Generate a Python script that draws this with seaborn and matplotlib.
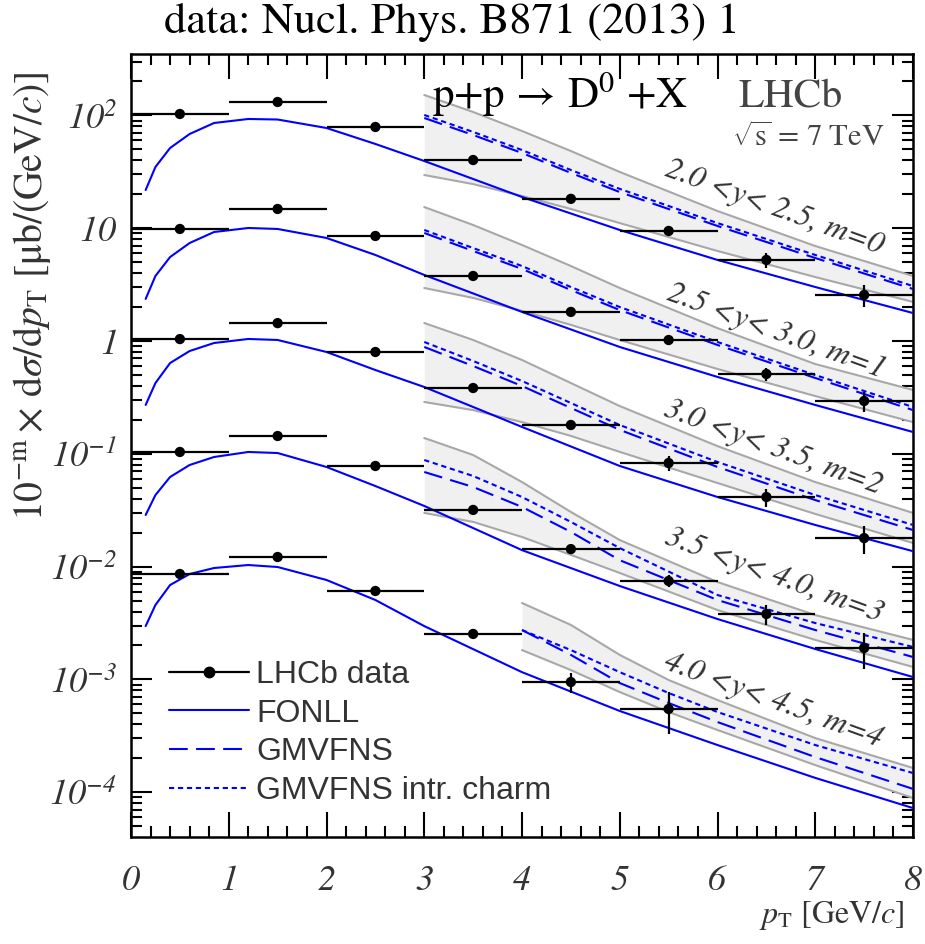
import numpy as np
import pandas as pd
import matplotlib
matplotlib.use("Agg")
import matplotlib.pyplot as plt
from matplotlib.lines import Line2D
from matplotlib.ticker import FixedLocator, MultipleLocator, LogLocator, NullFormatter
import seaborn as sns

# ---------------- data (physical values, mub/(GeV/c)); plotted as 10^-m x value ----
m_values = [0, 1, 2, 3, 4]
rap_labels = ["2.0 <y< 2.5, m=0", "2.5 <y< 3.0, m=1", "3.0 <y< 3.5, m=2",
              "3.5 <y< 4.0, m=3", "4.0 <y< 4.5, m=4"]

pt_centres = [0.5, 1.5, 2.5, 3.5, 4.5, 5.5, 6.5, 7.5]
data_m0 = [102.9, 131.4, 78.9, 40.2, 18.2, 9.45, 5.23, 2.56]
data_m1 = [98.4, 148.0, 85.3, 37.7, 18.1, 10.2, 5.10, 2.94]
data_m2 = [104.0, 144.0, 79.9, 38.3, 18.0, 8.29, 4.14, 1.79]
data_m3 = [103.8, 143.8, 78.0, 31.8, 14.3, 7.46, 3.80, 1.90]
data_m4 = [86.0, 121.7, 60.8, 25.3, 9.48, 5.47]
relerr_m0 = [0.05, 0.05, 0.05, 0.06, 0.07, 0.08, 0.15, 0.22]
relerr_m1 = [0.05, 0.05, 0.05, 0.06, 0.07, 0.08, 0.13, 0.20]
relerr_m2 = [0.05, 0.05, 0.05, 0.06, 0.07, 0.15, 0.18, 0.28]
relerr_m3 = [0.05, 0.05, 0.05, 0.06, 0.08, 0.12, 0.20, 0.35]
relerr_m4 = [0.05, 0.05, 0.05, 0.08, 0.20, 0.40]

# FONLL
pt_fonll = [0.15, 0.25, 0.4, 0.6, 0.85, 1.2, 1.5, 2.0, 2.5, 3.0, 4.0, 5.0, 6.0, 7.0, 8.0]
fonll_m0 = [21.8, 34.9, 51.4, 68.4, 85.6, 92.9, 91.9, 77.3, 55.8, 39.4, 18.9, 9.64, 5.23, 3.01, 1.77]
fonll_m1 = [23.6, 37.7, 55.5, 73.9, 92.5, 100.4, 98.4, 81.9, 57.9, 38.5, 18.1, 8.85, 4.80, 2.71, 1.56]
fonll_m2 = [27.1, 42.4, 63.8, 81.5, 96.0, 104.2, 102.1, 79.9, 55.3, 39.1, 17.3, 7.80, 4.14, 2.34, 1.37]
fonll_m3 = [28.7, 43.1, 62.3, 79.6, 93.7, 103.8, 101.6, 76.4, 51.8, 34.5, 14.0, 6.73, 3.43, 1.86, 1.05]
fonll_m4 = [29.7, 45.7, 68.7, 86.0, 97.2, 103.3, 99.2, 76.1, 50.6, 29.7, 11.6, 5.25, 2.62, 1.34, 0.724]

# GMVFNS, GMVFNS intrinsic charm, and uncertainty band
pt_gm = [3.0, 3.5, 4.0, 4.5, 5.0, 6.0, 7.0, 8.0]
pt_gm4 = [4.0, 4.5, 5.0, 5.5, 6.0, 7.0, 8.0]
gm_m0 = [94.8, 67.0, 46.4, 30.9, 20.9, 10.46, 5.44, 2.89]
ic_m0 = [100.8, 71.3, 49.3, 32.8, 22.3, 11.1, 5.79, 3.07]
hi_m0 = [151.6, 107.2, 72.7, 48.3, 31.5, 14.2, 6.95, 3.77]
lo_m0 = [29.6, 24.6, 19.3, 14.8, 11.1, 6.28, 3.69, 2.22]
gm_m1 = [90.7, 62.8, 43.5, 28.3, 18.8, 9.22, 4.70, 2.44]
ic_m1 = [96.4, 66.7, 46.2, 30.1, 20.0, 9.80, 4.99, 2.60]
hi_m1 = [154.0, 106.7, 71.0, 46.2, 29.5, 13.0, 6.25, 3.68]
lo_m1 = [29.5, 24.1, 18.5, 13.9, 10.2, 5.65, 3.25, 1.91]
gm_m2 = [88.5, 60.0, 39.9, 25.5, 16.3, 7.64, 3.89, 2.11]
ic_m2 = [98.0, 66.5, 44.2, 28.2, 18.0, 8.46, 4.31, 2.34]
hi_m2 = [144.4, 102.1, 67.9, 42.4, 26.5, 11.7, 5.62, 2.99]
lo_m2 = [28.8, 24.4, 19.1, 14.4, 10.4, 5.51, 2.93, 1.62]
gm_m3 = [69.0, 50.8, 33.8, 20.3, 11.4, 5.06, 2.74, 1.58]
ic_m3 = [88.1, 63.6, 41.4, 24.9, 14.6, 5.60, 3.16, 1.94]
hi_m3 = [138.1, 97.6, 56.2, 30.5, 17.2, 7.30, 3.72, 2.24]
lo_m3 = [29.9, 24.9, 18.3, 12.7, 8.78, 4.12, 2.24, 1.29]
gm_m4 = [27.4, 16.5, 9.29, 6.18, 4.19, 2.05, 1.07]
ic_m4 = [27.4, 18.2, 11.6, 7.58, 5.14, 2.62, 1.48]
hi_m4 = [47.6, 30.4, 16.5, 9.88, 6.57, 3.02, 1.64]
lo_m4 = [18.2, 12.1, 7.73, 5.14, 3.56, 1.74, 0.889]

legend_labels = ["LHCb data", "FONLL", "GMVFNS", "GMVFNS intr. charm"]
x_tick_values = [0, 1, 2, 3, 4, 5, 6, 7, 8]
y_tick_values = [1e-4, 1e-3, 1e-2, 1e-1, 1, 10, 100]
y_tick_labels = [r"$\mathsf{10}^{\mathsf{-4}}$", r"$\mathsf{10}^{\mathsf{-3}}$",
                 r"$\mathsf{10}^{\mathsf{-2}}$", r"$\mathsf{10}^{\mathsf{-1}}$",
                 r"$\mathsf{1}$", r"$\mathsf{10}$", r"$\mathsf{10}^{\mathsf{2}}$"]

# ---------------- assemble tables ----------------
data_sets = [data_m0, data_m1, data_m2, data_m3, data_m4]
err_sets = [relerr_m0, relerr_m1, relerr_m2, relerr_m3, relerr_m4]
fonll_sets = [fonll_m0, fonll_m1, fonll_m2, fonll_m3, fonll_m4]
gm_sets = [gm_m0, gm_m1, gm_m2, gm_m3, gm_m4]
ic_sets = [ic_m0, ic_m1, ic_m2, ic_m3, ic_m4]
hi_sets = [hi_m0, hi_m1, hi_m2, hi_m3, hi_m4]
lo_sets = [lo_m0, lo_m1, lo_m2, lo_m3, lo_m4]

rows_f, rows_g = [], []
for m, f in zip(m_values, fonll_sets):
    for p, v in zip(pt_fonll, f):
        rows_f.append(dict(pt=p, val=v * 10.0 ** (-m), m=m))
df_fonll = pd.DataFrame(rows_f)
for m in m_values:
    pts = pt_gm4 if m == 4 else pt_gm
    for i, p in enumerate(pts):
        s = 10.0 ** (-m)
        rows_g.append(dict(pt=p, gm=gm_sets[m][i] * s, ic=ic_sets[m][i] * s,
                           hi=hi_sets[m][i] * s, lo=lo_sets[m][i] * s, m=m))
df_gm = pd.DataFrame(rows_g)

rows_d = []
for m in m_values:
    for p, v, e in zip(pt_centres, data_sets[m], err_sets[m]):
        rows_d.append(dict(pt=p, val=v * 10.0 ** (-m), err=v * e * 10.0 ** (-m), m=m))
df_data = pd.DataFrame(rows_d)

# ---------------- style ----------------
sns.set_theme(style="ticks")
plt.rcParams["font.family"] = ["STIXGeneral", "DejaVu Serif"]
plt.rcParams["mathtext.fontset"] = "custom"
plt.rcParams["mathtext.rm"] = "STIXGeneral"
plt.rcParams["mathtext.it"] = "STIXGeneral:italic"
plt.rcParams["mathtext.bf"] = "STIXGeneral:bold"
plt.rcParams["mathtext.sf"] = "STIXGeneral:italic"
plt.rcParams["axes.linewidth"] = 1.8

W, H = 925, 944
fig = plt.figure(figsize=(W / 100, H / 100), dpi=100)
x0, x1, ytop, ybot = 131, 913, 54, 837
ax = fig.add_axes([x0 / W, 1 - ybot / H, (x1 - x0) / W, (ybot - ytop) / H])
ax.set_yscale("log")
ax.set_xlim(0, 8)
ax.set_ylim(4.01e-5, 350)

BLUE = "#0000ff"
GRAY = "#a8a8a8"
LD = (0, (9, 4))
SD = (0, (2.5, 1.8))
for m in m_values:
    sub = df_gm[df_gm.m == m]
    ax.fill_between(sub.pt, sub.lo, sub.hi, color="#f0f0f0", lw=0, zorder=1)
    sns.lineplot(data=sub, x="pt", y="hi", color=GRAY, lw=1.5, ax=ax, zorder=2)
    sns.lineplot(data=sub, x="pt", y="lo", color=GRAY, lw=1.5, ax=ax, zorder=2)
    sns.lineplot(data=sub, x="pt", y="gm", color=BLUE, lw=1.5, ax=ax, zorder=3, linestyle=LD)
    sns.lineplot(data=sub, x="pt", y="ic", color=BLUE, lw=1.5, ax=ax, zorder=3, linestyle=SD)
    subf = df_fonll[df_fonll.m == m]
    sns.lineplot(data=subf, x="pt", y="val", color=BLUE, lw=1.5, ax=ax, zorder=3)

ax.errorbar(df_data.pt, df_data.val, xerr=0.5, yerr=df_data.err, fmt="none",
            ecolor="black", elinewidth=1.6, capsize=0, zorder=4)
sns.scatterplot(data=df_data, x="pt", y="val", color="black", s=55, ax=ax,
                zorder=5, edgecolor="none", legend=False)

# ---------------- axes ----------------
tick_col = "#333333"
ax.xaxis.set_major_locator(FixedLocator(x_tick_values))
ax.xaxis.set_minor_locator(MultipleLocator(0.2))
ax.set_xticklabels([r"$\mathsf{%d}$" % v for v in x_tick_values])
ax.yaxis.set_major_locator(FixedLocator(y_tick_values))
ax.yaxis.set_minor_locator(LogLocator(base=10, subs=np.arange(2, 10)))
ax.yaxis.set_minor_formatter(NullFormatter())
ax.set_yticklabels(y_tick_labels)
ax.tick_params(which="both", direction="in", top=True, right=True, width=1.5,
               colors="black", labelcolor=tick_col, labelsize=26)
ax.tick_params(axis="x", which="major", length=18, pad=20)
ax.tick_params(axis="y", which="major", length=15, pad=10)
ax.tick_params(which="minor", length=8)
for s in ax.spines.values():
    s.set_color("black")
ax.set_xlabel("")
ax.set_ylabel("")

fig.text(905 / W, 1 - 915 / H, r"$p_{\mathrm{T}}$ [GeV/$c$]", ha="right", va="center",
         fontsize=23, color=tick_col)
fig.text(32 / W, 1 - 296 / H,
         r"$10^{\mathrm{-m}}\times\,\mathrm{d}\sigma/\mathrm{d}p_{\mathrm{T}}$ [$\mathrm{\mu}$b/(GeV/$c$)]",
         ha="center", va="center", rotation=90, fontsize=28.5, color=tick_col)

# ---------------- annotations ----------------
fig.text(452 / W, 1 - 22 / H, "data: Nucl. Phys. B871 (2013) 1", ha="center",
         va="center", fontsize=32, color="black")
fig.text(432 / W, 1 - 94 / H, r"p+p$\,\rightarrow\,$D$^{0}$ +X", ha="left",
         va="center", fontsize=31, color="black")
fig.text(791 / W, 1 - 97 / H, "LHCb", ha="center", va="center", fontsize=30,
         color="#444444")
fig.text(808 / W, 1 - 138 / H, r"$\sqrt{\mathrm{s}}$ = 7 TeV", ha="center",
         va="center", fontsize=22, color="#444444")
label_xy = [(774, 208), (776, 332), (773, 448), (774, 576), (773, 701)]
for lab, (xx, yy) in zip(rap_labels, label_xy):
    fig.text(xx / W, 1 - yy / H, lab, ha="center", va="center", rotation=-20,
             fontsize=23, style="italic", color="#333333", rotation_mode="anchor")

handles = [
    Line2D([], [], color="black", lw=1.6, marker="o", markersize=7.5),
    Line2D([], [], color=BLUE, lw=1.5),
    Line2D([], [], color=BLUE, lw=1.5, linestyle=LD),
    Line2D([], [], color=BLUE, lw=1.5, linestyle=SD),
]
leg = ax.legend(handles, legend_labels, loc="upper left",
                bbox_to_anchor=((169 - x0) / (x1 - x0), (ybot - 660) / (ybot - ytop)),
                frameon=False, handlelength=2.5, handletextpad=0.22, labelspacing=0.27,
                borderpad=0, borderaxespad=0,
                prop={"family": "Liberation Sans", "size": 23})
for t in leg.get_texts():
    t.set_color("#333333")

fig.savefig("out.png", dpi=100)
